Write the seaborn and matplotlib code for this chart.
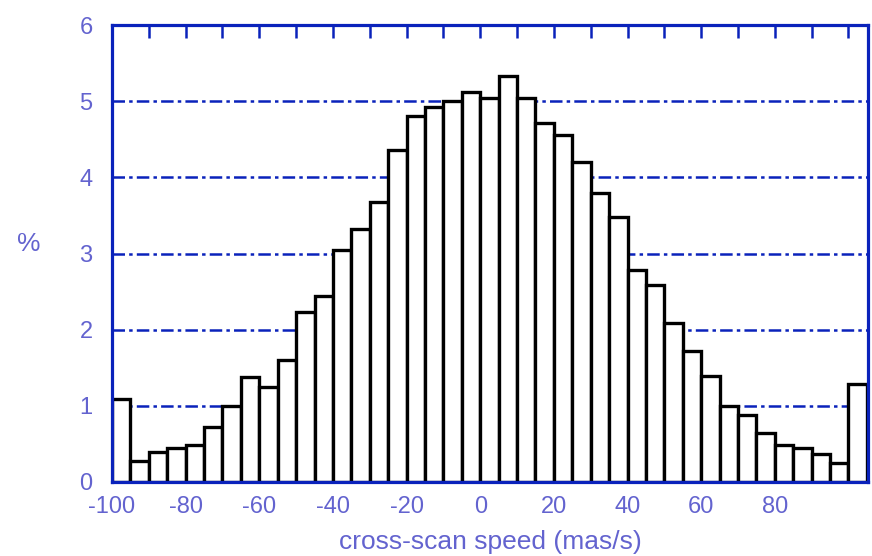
import numpy as np
import matplotlib
matplotlib.use("Agg")
import matplotlib.pyplot as plt
import seaborn as sns

# ---- data ----
bin_edges = list(range(-100, 110, 5))  # 5-unit bins from -100 to 105
percent = [1.09, 0.28, 0.39, 0.44, 0.48, 0.72, 1.00, 1.38, 1.25, 1.60,
           2.23, 2.44, 3.04, 3.32, 3.67, 4.36, 4.80, 4.92, 5.00, 5.12,
           5.04, 5.33, 5.04, 4.72, 4.56, 4.20, 3.79, 3.48, 2.79, 2.59,
           2.09, 1.72, 1.39, 1.00, 0.88, 0.64, 0.49, 0.44, 0.37, 0.25,
           1.29]
xtick_values = [-100, -80, -60, -40, -20, 0, 20, 40, 60, 80]
xtick_labels = ["-100", "-80", "-60", "-40", "-20", "0", "20", "40", "60", "80"]
minor_ticks = list(range(-90, 105, 10))
ytick_values = [0, 1, 2, 3, 4, 5, 6]
grid_levels = [1, 2, 3, 4, 5]
xlabel = "cross-scan speed (mas/s)"
ylabel = "%"

bin_centers = [(bin_edges[i] + bin_edges[i + 1]) / 2 for i in range(len(percent))]

sns.set_style("white")
plt.rcParams["font.family"] = ["Liberation Sans", "DejaVu Sans"]
plt.rcParams["lines.scale_dashes"] = False

axis_blue = "#0a22bb"
text_blue = "#6363cf"

fig = plt.figure(figsize=(8.72, 5.56), dpi=100)
ax = fig.add_axes([0.1284, 0.1331, 0.9954 - 0.1284, 0.955 - 0.1331])

sns.histplot(x=bin_centers, weights=percent, bins=bin_edges, stat="count",
             element="bars", fill=True, color="white", alpha=1.0,
             edgecolor="black", linewidth=2.4, ax=ax, zorder=2)

for lvl in grid_levels:
    ax.axhline(lvl, color=axis_blue, lw=1.8, linestyle=(0, (9, 3, 2.5, 3)), zorder=1)

ax.set_xlim(-100, 105.3)
ax.set_ylim(0, 6)

ax.set_xticks(xtick_values)
ax.set_xticklabels(xtick_labels)
ax.set_xticks(minor_ticks, minor=True)
ax.set_yticks(ytick_values)
ax.set_yticklabels([str(v) for v in ytick_values])

ax.tick_params(axis="x", which="both", direction="in", length=9, width=1.8,
               color=axis_blue, top=True, bottom=True, labelsize=17,
               labelcolor=text_blue, pad=10)
ax.tick_params(axis="y", which="both", length=0, labelsize=17,
               labelcolor=text_blue, pad=14)
for t in ax.xaxis.get_major_ticks() + ax.xaxis.get_minor_ticks():
    t.tick1line.set_zorder(5)
    t.tick2line.set_zorder(5)

for s in ax.spines.values():
    s.set_visible(True)
    s.set_color(axis_blue)
    s.set_linewidth(2.3)
    s.set_zorder(6)

ax.set_xlabel(xlabel, fontsize=19, color=text_blue, labelpad=9)
ax.set_ylabel(ylabel, fontsize=19, color=text_blue, rotation=0,
              va="center")
ax.yaxis.set_label_coords(-0.11, 0.52)

fig.savefig("out.png", dpi=100)
